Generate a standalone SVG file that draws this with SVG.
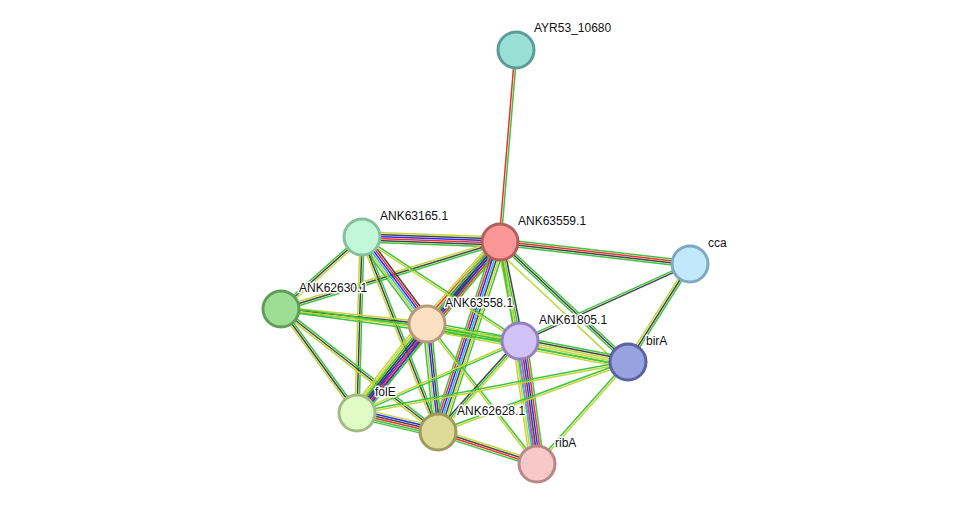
<svg xmlns="http://www.w3.org/2000/svg" width="975" height="510" viewBox="0 0 975 510">
<style>
line{stroke-width:1.5;fill:none}
.g{stroke:#3ec43e}.y{stroke:#c2d63a}.k{stroke:#444}.r{stroke:#f03030}.b{stroke:#2a2aef}.c{stroke:#33b5e5}.m{stroke:#e030e0}
circle{stroke-width:3}
text{font-family:"Liberation Sans",Arial,sans-serif;font-size:12px;fill:#111;stroke:#fff;stroke-width:3;paint-order:stroke;stroke-linejoin:round}
</style>
<rect width="975" height="510" fill="#fff"/>
<g id="edges">
<g transform="translate(516,50) rotate(94.76)"><line x2="192.7" y1="-1" y2="-1" class="g"/><line x2="192.7" y1="1" y2="1" class="r"/></g>
<g transform="translate(362,237) rotate(2.07)"><line x2="138.1" y1="-5" y2="-5" class="y"/><line x2="138.1" y1="-3" y2="-3" class="k"/><line x2="138.1" y1="-1" y2="-1" class="b"/><line x2="138.1" y1="1" y2="1" class="r"/><line x2="138.1" y1="3" y2="3" class="k"/><line x2="138.1" y1="5" y2="5" class="g"/></g>
<g transform="translate(500,242) rotate(6.60)"><line x2="191.3" y1="-3" y2="-3" class="g"/><line x2="191.3" y1="-1" y2="-1" class="r"/><line x2="191.3" y1="1" y2="1" class="k"/><line x2="191.3" y1="3" y2="3" class="g"/></g>
<g transform="translate(281,309) rotate(-17.01)"><line x2="229" y1="-2" y2="-2" class="y"/><line x2="229" y1="0" y2="0" class="k"/><line x2="229" y1="2" y2="2" class="g"/></g>
<g transform="translate(427,324) rotate(-48.33)"><line x2="109.8" y1="-6" y2="-6" class="y"/><line x2="109.8" y1="-4" y2="-4" class="r"/><line x2="109.8" y1="-2" y2="-2" class="b"/><line x2="109.8" y1="0" y2="0" class="b"/><line x2="109.8" y1="2" y2="2" class="k"/><line x2="109.8" y1="4" y2="4" class="g"/><line x2="109.8" y1="6" y2="6" class="y"/></g>
<g transform="translate(500,242) rotate(78.58)"><line x2="101" y1="-3" y2="-3" class="k"/><line x2="101" y1="-1" y2="-1" class="g"/><line x2="101" y1="1" y2="1" class="g"/><line x2="101" y1="3" y2="3" class="y"/></g>
<g transform="translate(500,242) rotate(43.15)"><line x2="175.5" y1="-2" y2="-2" class="g"/><line x2="175.5" y1="0" y2="0" class="k"/><line x2="175.5" y1="2" y2="2" class="g"/><line x2="175.5" y1="8" y2="8" class="y"/></g>
<g transform="translate(357,413) rotate(-50.09)"><line x2="222.9" y1="-5" y2="-5" class="y"/><line x2="222.9" y1="-3" y2="-3" class="g"/><line x2="222.9" y1="-1" y2="-1" class="k"/><line x2="222.9" y1="1" y2="1" class="b"/><line x2="222.9" y1="3" y2="3" class="r"/><line x2="222.9" y1="5" y2="5" class="g"/></g>
<g transform="translate(438,432) rotate(-71.93)"><line x2="199.9" y1="-6" y2="-6" class="g"/><line x2="199.9" y1="-4" y2="-4" class="r"/><line x2="199.9" y1="-2" y2="-2" class="b"/><line x2="199.9" y1="0" y2="0" class="c"/><line x2="199.9" y1="2" y2="2" class="k"/><line x2="199.9" y1="4" y2="4" class="y"/><line x2="199.9" y1="6" y2="6" class="g"/></g>
<g transform="translate(500,242) rotate(80.54)"><line x2="225.1" y1="-1" y2="-1" class="y"/><line x2="225.1" y1="1" y2="1" class="g"/></g>
<g transform="translate(362,237) rotate(53.24)"><line x2="108.6" y1="-5" y2="-5" class="k"/><line x2="108.6" y1="-3" y2="-3" class="r"/><line x2="108.6" y1="-1" y2="-1" class="b"/><line x2="108.6" y1="1" y2="1" class="c"/><line x2="108.6" y1="3" y2="3" class="y"/><line x2="108.6" y1="5" y2="5" class="g"/></g>
<g transform="translate(281,309) rotate(-41.63)"><line x2="108.4" y1="-2" y2="-2" class="g"/><line x2="108.4" y1="0" y2="0" class="k"/><line x2="108.4" y1="2" y2="2" class="y"/></g>
<g transform="translate(362,237) rotate(91.63)"><line x2="176.1" y1="-2" y2="-2" class="g"/><line x2="176.1" y1="0" y2="0" class="k"/><line x2="176.1" y1="2" y2="2" class="y"/></g>
<g transform="translate(362,237) rotate(68.71)"><line x2="209.3" y1="-2" y2="-2" class="g"/><line x2="209.3" y1="0" y2="0" class="k"/><line x2="209.3" y1="2" y2="2" class="y"/></g>
<g transform="translate(362,237) rotate(33.35)"><line x2="189.2" y1="-1" y2="-1" class="g"/><line x2="189.2" y1="1" y2="1" class="y"/></g>
<g transform="translate(520,341) rotate(-24.37)"><line x2="186.6" y1="-1" y2="-1" class="g"/><line x2="186.6" y1="1" y2="1" class="k"/></g>
<g transform="translate(690,264) rotate(122.32)"><line x2="116" y1="-2" y2="-2" class="g"/><line x2="116" y1="0" y2="0" class="k"/><line x2="116" y1="2" y2="2" class="y"/></g>
<g transform="translate(281,309) rotate(5.87)"><line x2="146.8" y1="-2" y2="-2" class="y"/><line x2="146.8" y1="0" y2="0" class="k"/><line x2="146.8" y1="2" y2="2" class="g"/></g>
<g transform="translate(281,309) rotate(7.63)"><line x2="241.1" y1="-2" y2="-2" class="g"/><line x2="241.1" y1="0" y2="0" class="y"/><line x2="241.1" y1="2" y2="2" class="g"/></g>
<g transform="translate(281,309) rotate(53.84)"><line x2="128.8" y1="-2" y2="-2" class="g"/><line x2="128.8" y1="0" y2="0" class="k"/><line x2="128.8" y1="2" y2="2" class="y"/></g>
<g transform="translate(281,309) rotate(38.08)"><line x2="199.4" y1="-2" y2="-2" class="g"/><line x2="199.4" y1="0" y2="0" class="k"/><line x2="199.4" y1="2" y2="2" class="y"/></g>
<g transform="translate(427,324) rotate(10.36)"><line x2="94.5" y1="-2" y2="-2" class="g"/><line x2="94.5" y1="0" y2="0" class="y"/><line x2="94.5" y1="2" y2="2" class="g"/></g>
<g transform="translate(427,324) rotate(10.71)"><line x2="204.6" y1="4" y2="4" class="g"/><line x2="204.6" y1="6" y2="6" class="y"/></g>
<g transform="translate(357,413) rotate(-51.81)"><line x2="113.2" y1="-7" y2="-7" class="y"/><line x2="113.2" y1="-5" y2="-5" class="y"/><line x2="113.2" y1="-3" y2="-3" class="g"/><line x2="113.2" y1="-1" y2="-1" class="k"/><line x2="113.2" y1="1" y2="1" class="b"/><line x2="113.2" y1="3" y2="3" class="r"/><line x2="113.2" y1="5" y2="5" class="b"/><line x2="113.2" y1="7" y2="7" class="g"/></g>
<g transform="translate(427,324) rotate(84.18)"><line x2="108.6" y1="-4" y2="-4" class="g"/><line x2="108.6" y1="-2" y2="-2" class="k"/><line x2="108.6" y1="0" y2="0" class="b"/><line x2="108.6" y1="2" y2="2" class="y"/><line x2="108.6" y1="4" y2="4" class="g"/></g>
<g transform="translate(427,324) rotate(51.84)"><line x2="178" y1="-1" y2="-1" class="g"/><line x2="178" y1="1" y2="1" class="y"/></g>
<g transform="translate(520,341) rotate(11.00)"><line x2="110" y1="-4" y2="-4" class="g"/><line x2="110" y1="-2" y2="-2" class="k"/><line x2="110" y1="0" y2="0" class="y"/><line x2="110" y1="2" y2="2" class="y"/><line x2="110" y1="4" y2="4" class="g"/></g>
<g transform="translate(357,413) rotate(-23.83)"><line x2="178.2" y1="-1" y2="-1" class="y"/><line x2="178.2" y1="1" y2="1" class="g"/></g>
<g transform="translate(438,432) rotate(-47.98)"><line x2="122.5" y1="-2" y2="-2" class="k"/><line x2="122.5" y1="0" y2="0" class="g"/><line x2="122.5" y1="2" y2="2" class="y"/></g>
<g transform="translate(520,341) rotate(82.13)"><line x2="124.2" y1="-7" y2="-7" class="g"/><line x2="124.2" y1="-5" y2="-5" class="r"/><line x2="124.2" y1="-3" y2="-3" class="b"/><line x2="124.2" y1="-1" y2="-1" class="k"/><line x2="124.2" y1="1" y2="1" class="m"/><line x2="124.2" y1="3" y2="3" class="c"/><line x2="124.2" y1="5" y2="5" class="y"/><line x2="124.2" y1="7" y2="7" class="y"/></g>
<g transform="translate(357,413) rotate(-10.66)"><line x2="275.8" y1="-1" y2="-1" class="g"/><line x2="275.8" y1="1" y2="1" class="y"/></g>
<g transform="translate(438,432) rotate(-20.22)"><line x2="202.5" y1="-1" y2="-1" class="g"/><line x2="202.5" y1="1" y2="1" class="y"/></g>
<g transform="translate(537,464) rotate(-48.26)"><line x2="136.7" y1="-1" y2="-1" class="g"/><line x2="136.7" y1="1" y2="1" class="y"/></g>
<g transform="translate(357,413) rotate(13.20)"><line x2="83.2" y1="-5" y2="-5" class="y"/><line x2="83.2" y1="-3" y2="-3" class="b"/><line x2="83.2" y1="-1" y2="-1" class="k"/><line x2="83.2" y1="1" y2="1" class="r"/><line x2="83.2" y1="3" y2="3" class="g"/><line x2="83.2" y1="5" y2="5" class="g"/></g>
<g transform="translate(438,432) rotate(17.91)"><line x2="104" y1="-3" y2="-3" class="y"/><line x2="104" y1="-1" y2="-1" class="k"/><line x2="104" y1="1" y2="1" class="r"/><line x2="104" y1="3" y2="3" class="g"/></g>
</g>
<g id="node-AYR53_10680"><circle cx="516" cy="50" r="18" fill="#99dfd6" stroke="#5b9c95"/><text x="534" y="32">AYR53_10680</text></g>
<g id="node-ANK63559.1"><circle cx="500" cy="242" r="18" fill="#fc9797" stroke="#b35d5d"/><text x="518" y="225">ANK63559.1</text></g>
<g id="node-ANK63165.1"><circle cx="362" cy="237" r="18" fill="#c2f7d9" stroke="#86bf9c"/><text x="380" y="220">ANK63165.1</text></g>
<g id="node-cca"><circle cx="690" cy="264" r="18" fill="#c2e9fb" stroke="#80a8c0"/><text x="708" y="247">cca</text></g>
<g id="node-ANK62630.1"><circle cx="281" cy="309" r="18" fill="#9ede94" stroke="#5e9e58"/><text x="299" y="292">ANK62630.1</text></g>
<g id="node-ANK63558.1"><circle cx="427" cy="324" r="18" fill="#fde0c2" stroke="#b8997c"/><text x="445" y="307">ANK63558.1</text></g>
<g id="node-ANK61805.1"><circle cx="520" cy="341" r="18" fill="#d3c2f8" stroke="#9680bf"/><text x="539" y="324">ANK61805.1</text></g>
<g id="node-birA"><circle cx="628" cy="362" r="18" fill="#98a2df" stroke="#5a62a0"/><text x="646" y="345">birA</text></g>
<g id="node-folE"><circle cx="357" cy="413" r="18" fill="#e0fcc4" stroke="#a0bc84"/><text x="375" y="396">folE</text></g>
<g id="node-ANK62628.1"><circle cx="438" cy="432" r="18" fill="#dedb98" stroke="#9e9a5a"/><text x="457" y="415">ANK62628.1</text></g>
<g id="node-ribA"><circle cx="537" cy="464" r="18" fill="#f8c8c8" stroke="#b88888"/><text x="555" y="447">ribA</text></g>
</svg>
